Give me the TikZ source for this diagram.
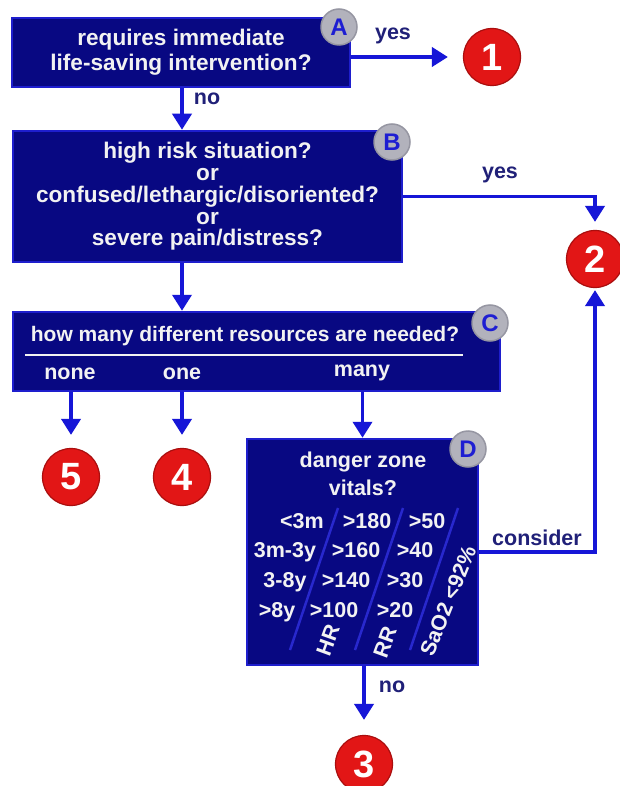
\documentclass[tikz,border=0pt]{standalone}
\usepackage{fontspec}
\setmainfont{Liberation Sans}
\usetikzlibrary{arrows.meta,calc}

\definecolor{boxfill}{RGB}{8,8,130}
\definecolor{boxedge}{RGB}{30,30,205}
\definecolor{arrowblue}{RGB}{22,22,215}
\definecolor{labelnavy}{RGB}{32,32,120}
\definecolor{badgered}{RGB}{226,22,22}
\definecolor{badgerim}{RGB}{170,14,14}
\definecolor{tagfill}{RGB}{178,178,188}
\definecolor{tagedge}{RGB}{150,150,162}
\definecolor{tagletter}{RGB}{30,30,210}
\definecolor{boxtext}{RGB}{242,242,242}
\definecolor{slantline}{RGB}{40,40,205}

\newcommand\qtxt{\fontsize{21.5}{21.7}\selectfont\bfseries}
\newcommand\bigqtxt{\fontsize{22.6}{21.7}\selectfont\bfseries}
\newcommand\numtxt{\fontsize{38}{38}\selectfont\bfseries}
\newcommand\tagtxt{\fontsize{24}{24}\selectfont\bfseries}

\begin{document}
\begin{tikzpicture}[x=1pt,y=-1pt,
  qbox/.style={draw=boxedge, fill=boxfill, line width=2.5pt, inner sep=0pt,
               text=boxtext, font=\bigqtxt, align=center},
  intext/.style={text=boxtext, font=\qtxt, inner sep=0pt, anchor=base},
  lbl/.style={text=labelnavy, font=\qtxt, inner sep=0pt, anchor=base},
  badge/.style={circle, fill=badgered, draw=badgerim, line width=1.2pt,
                minimum size=57pt, inner sep=0pt, text=white, font=\numtxt},
  tag/.style={circle, fill=tagfill, draw=tagedge, line width=1.5pt,
              minimum size=36pt, inner sep=0pt, text=tagletter, font=\tagtxt},
  arr/.style={draw=arrowblue, line width=3.8pt,
              -{Triangle[width=19pt,length=16pt]}},
  slant/.style={draw=slantline, line width=2.5pt}]

\useasboundingbox (0,0) rectangle (619,786);
\fill[white] (0,0) rectangle (619,786);

% question boxes
\node[qbox, minimum width=338pt, minimum height=69pt,
      font={\fontsize{22.6}{25}\selectfont\bfseries}] (A) at (181,52.5)
  {requires immediate\\life-saving intervention?};
\node[qbox, minimum width=389pt, minimum height=131pt] (B) at (207.5,196.5)
  {high risk situation?\\or\\confused/lethargic/disoriented?\\or\\severe pain/distress?};
\node[qbox, minimum width=487pt, minimum height=79pt] (C) at (256.5,351.5) {};
\node[qbox, minimum width=231pt, minimum height=226pt] (D) at (362.5,552) {};

% box C contents
\node[intext, font={\fontsize{21}{21}\selectfont\bfseries}] (ctitle) at (245,341)
  {how many different resources are needed?};
\draw[boxtext, line width=2pt] (25,355) -- (463,355);
\node[intext] (cnone) at (70,379) {none};
\node[intext] (cone) at (182,379) {one};
\node[intext] (cmany) at (362,376) {many};

% box D contents
\node[intext] (dline1) at (363,467) {danger zone};
\node[intext] (dline2) at (363,495) {vitals?};
\draw[slant] (338,508) -- (290,650);
\draw[slant] (403,508) -- (355,650);
\draw[slant] (458,508) -- (410,650);
\node[intext] (r1a) at (302,528) {<3m};
\node[intext] (r1b) at (367,528) {>180};
\node[intext] (r1c) at (427,528) {>50};
\node[intext] (r2a) at (285,557) {3m-3y};
\node[intext] (r2b) at (356,557) {>160};
\node[intext] (r2c) at (415,557) {>40};
\node[intext] (r3a) at (285,587) {3-8y};
\node[intext] (r3b) at (346,587) {>140};
\node[intext] (r3c) at (405,587) {>30};
\node[intext] (r4a) at (277,617) {>8y};
\node[intext] (r4b) at (334,617) {>100};
\node[intext] (r4c) at (395,617) {>20};
\node[intext, anchor=center, rotate=70] (hr) at (328,640) {HR};
\node[intext, anchor=center, rotate=70] (rr) at (385,642) {RR};
\node[intext, anchor=center, rotate=68] (sao) at (448,601) {SaO2 <92\%};

% letter tags
\node[tag] (tA) at (339,27) {A};
\node[tag] (tB) at (392,142) {B};
\node[tag] (tC) at (490,323) {C};
\node[tag] (tD) at (468,449) {D};

% outcome badges
\node[badge] (n1) at (492,57) {1};
\node[badge] (n2) at (595,259) {2};
\node[badge] (n3) at (364,764) {3};
\node[badge] (n4) at (182,477) {4};
\node[badge] (n5) at (71,477) {5};

% connectors
\coordinate (xmain) at (182,0);
\draw[arr, shorten >=15pt] (A.east |- n1) -- (n1.west);
\draw[arr] (A.south -| xmain) -- (B.north -| xmain);
\draw[arr, shorten >=8pt] (B.east) -- (B.east -| n2) -- (n2.north);
\draw[arr] (B.south -| xmain) -- (C.north -| xmain);
\draw[arr, shorten >=13pt] (C.south -| n5) -- (n5.north);
\draw[arr, shorten >=13pt] (C.south -| n4) -- (n4.north);
\draw[arr] (C.south -| D) -- (D.north);
\draw[arr, shorten >=15pt] (D.south -| n3) -- (n3.north);
\draw[arr, shorten >=2pt] (D.east) -- (D.east -| n2) -- (n2.south);

% connector labels
\node[lbl] (lyesA) at (393,40) {yes};
\node[lbl] (lnoA) at (207,105) {no};
\node[lbl] (lyesB) at (500,179) {yes};
\node[lbl] (lcons) at (537,545) {consider};
\node[lbl] (lnoD) at (392,692) {no};

\end{tikzpicture}
\end{document}
